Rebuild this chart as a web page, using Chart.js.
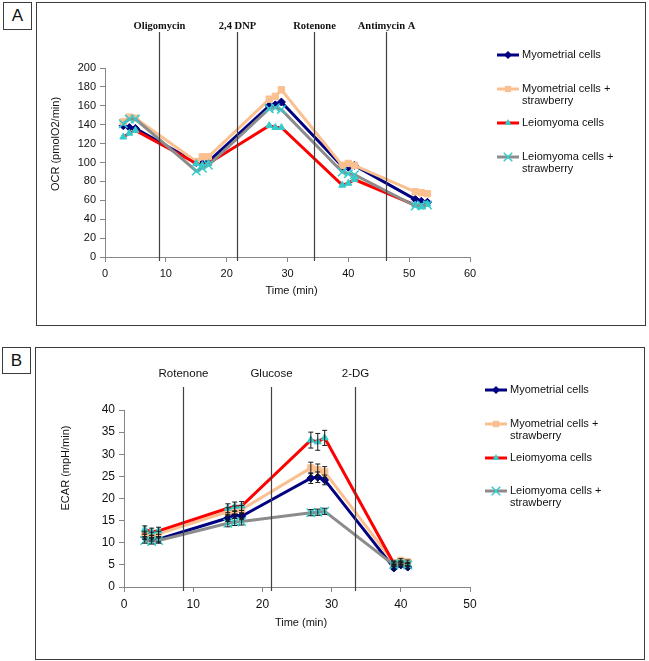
<!DOCTYPE html>
<html>
<head>
<meta charset="utf-8">
<script src="https://cdn.jsdelivr.net/npm/chart.js@4.4.1/dist/chart.umd.min.js"></script>
<style>
  body { margin: 0; width: 649px; height: 661px; background: #fff; position: relative; overflow: hidden;
         font-family: "Liberation Sans", Arial, sans-serif; }
  .frame { position: absolute; border: 1px solid #3c3c3c; }
  .tag { position: absolute; border: 1px solid #3c3c3c; font-size: 17px; text-align: center; line-height: 25px; color: #111; }
  canvas { position: absolute; }
</style>
</head>
<body>
<div class="frame" style="left:36px;top:2px;width:608px;height:322px"></div>
<div class="tag" style="left:3px;top:2px;width:27px;height:26px">A</div>
<div class="frame" style="left:35px;top:347px;width:608px;height:311px"></div>
<div class="tag" style="left:2px;top:347px;width:27px;height:25px">B</div>
<div style="position:absolute;left:37px;top:3px;width:607px;height:321px"><canvas id="ocrChart"></canvas></div>
<div style="position:absolute;left:36px;top:348px;width:608px;height:310px"><canvas id="ecarChart"></canvas></div>

<script>
// ---------------- data ----------------
const seriesNames = [
    ["Myometrial cells"],
    ["Myometrial cells +", "strawberry"],
    ["Leiomyoma cells"],
    ["Leiomyoma cells +", "strawberry"]
];

// Panel A - OCR
const timeA = [3, 4, 5, 15, 16, 17, 27, 28, 29, 39, 40, 41, 51, 52, 53];
const ocrMyo       = [139, 137, 136, 100, 99, 101, 160, 161, 164, 96, 95, 97, 61, 59, 58];
const ocrMyoStraw  = [143, 148, 147, 101, 106, 106, 167, 170, 177, 97, 99, 97, 69, 68, 67];
const ocrLeio      = [127, 131, 134, 99, 97, 99, 139, 137, 137, 76, 78, 82, 55, 53, 56];
const ocrLeioStraw = [141, 146, 146, 91, 94, 97, 157, 158, 156, 90, 88, 87, 54, 55, 55];
const injTimesA  = [8.8, 21.7, 34.3, 46.2];
const injLabelsA = ["Oligomycin", "2,4 DNP", "Rotenone", "Antimycin A"];

// Panel B - ECAR
const timeB = [3, 4, 5, 15, 16, 17, 27, 28, 29, 39, 40, 41];
const ecarMyo       = [11.3, 11.0, 10.8, 15.6, 16.3, 16.0, 24.6, 24.8, 24.2, 4.3, 5.0, 4.5];
const ecarMyoStraw  = [12.0, 11.8, 12.0, 17.0, 17.4, 17.5, 26.9, 26.5, 26.0, 5.5, 6.0, 5.7];
const ecarLeio      = [13.0, 12.5, 12.7, 17.8, 18.2, 18.3, 33.2, 32.8, 33.7, 5.3, 5.5, 5.2];
const ecarLeioStraw = [10.5, 10.3, 10.5, 14.4, 14.7, 14.8, 16.8, 16.9, 17.1, 5.0, 5.3, 5.0];
const errMyo       = [0.6, 0.6, 0.6, 0.8, 0.8, 0.8, 1.2, 1.2, 1.1, 0.4, 0.4, 0.4];
const errMyoStraw  = [0.6, 0.6, 0.6, 0.9, 0.9, 0.9, 1.3, 1.3, 1.2, 0.4, 0.4, 0.4];
const errLeio      = [0.8, 0.8, 0.8, 1.0, 1.0, 1.0, 1.8, 1.9, 1.7, 0.4, 0.4, 0.4];
const errLeioStraw = [0.6, 0.6, 0.6, 0.8, 0.8, 0.8, 0.7, 0.7, 0.7, 0.4, 0.4, 0.4];
const injTimesB  = [8.5, 21.2, 33.4];
const injLabelsB = ["Rotenone", "Glucose", "2-DG"];

// ---------------- styles ----------------
const LINE_COLORS   = ["#000080", "#FAC090", "#FF0000", "#8C8C8C"];
const MARKER_COLORS = ["#000080", "#FAC090", "#33CCCC", "#33CCCC"];
const MARKER_STYLES = ["rectRot", "rect", "triangle", "crossRot"];
const MARKER_RADII  = [4, 4.5, 4, 6];
const AXIS_COLOR = "#868686";

function makeDatasets(times, seriesList, errList) {
    return seriesList.map((vals, i) => ({
        label: seriesNames[i].join(" "),
        data: vals.map((v, k) => ({ x: times[k], y: v })),
        errors: errList ? errList[i] : null,
        borderColor: LINE_COLORS[i],
        borderWidth: 3,
        backgroundColor: MARKER_COLORS[i],
        pointBackgroundColor: MARKER_COLORS[i],
        pointBorderColor: MARKER_COLORS[i],
        pointBorderWidth: MARKER_STYLES[i] === "crossRot" ? 1.5 : 1,
        pointStyle: MARKER_STYLES[i],
        pointRadius: MARKER_RADII[i],
        tension: 0,
        order: 3 - i   // last series drawn on top
    }));
}

// small marker for the hand-drawn legend
function drawMarker(ctx, style, r, x, y) {
    ctx.beginPath();
    if (style === "rectRot") {
        ctx.moveTo(x, y - r); ctx.lineTo(x + r, y); ctx.lineTo(x, y + r); ctx.lineTo(x - r, y); ctx.closePath();
        ctx.fill();
    } else if (style === "rect") {
        const s = r * Math.SQRT1_2;
        ctx.rect(x - s, y - s, 2 * s, 2 * s);
        ctx.fill();
    } else if (style === "triangle") {
        ctx.moveTo(x, y - r); ctx.lineTo(x + r * 0.87, y + r * 0.5); ctx.lineTo(x - r * 0.87, y + r * 0.5); ctx.closePath();
        ctx.fill();
    } else {
        const s = r * Math.SQRT1_2;
        ctx.moveTo(x - s, y - s); ctx.lineTo(x + s, y + s);
        ctx.moveTo(x + s, y - s); ctx.lineTo(x - s, y + s);
        ctx.stroke();
    }
}

// injection lines + labels, legend, axis titles, error bars
function decorPlugin(cfg) {
    return {
        id: "decor",
        afterDatasetsDraw(chart) {
            const ctx = chart.ctx;
            const xs = chart.scales.x, ys = chart.scales.y;
            const area = chart.chartArea;

            // error bars
            chart.data.datasets.forEach(ds => {
                if (!ds.errors) return;
                ctx.save();
                ctx.strokeStyle = "#1a1a1a";
                ctx.lineWidth = 1;
                ds.data.forEach((p, k) => {
                    const px = xs.getPixelForValue(p.x);
                    const top = ys.getPixelForValue(p.y + ds.errors[k]);
                    const bot = ys.getPixelForValue(p.y - ds.errors[k]);
                    ctx.beginPath();
                    ctx.moveTo(px, top); ctx.lineTo(px, bot);
                    ctx.moveTo(px - 2.5, top); ctx.lineTo(px + 2.5, top);
                    ctx.moveTo(px - 2.5, bot); ctx.lineTo(px + 2.5, bot);
                    ctx.stroke();
                });
                ctx.restore();
            });

            // injection lines
            ctx.save();
            ctx.strokeStyle = "#404040";
            ctx.lineWidth = 1.2;
            ctx.fillStyle = "#111";
            ctx.font = cfg.injFont;
            ctx.textAlign = "center";
            ctx.textBaseline = "middle";
            cfg.injTimes.forEach((t, i) => {
                const px = Math.round(xs.getPixelForValue(t)) + 0.5;
                ctx.beginPath();
                ctx.moveTo(px, cfg.injLineTop);
                ctx.lineTo(px, area.bottom + 4);
                ctx.stroke();
                ctx.fillText(cfg.injLabels[i], px, cfg.injLabelY);
            });
            ctx.restore();
        },
        afterDraw(chart) {
            const ctx = chart.ctx;
            const area = chart.chartArea;
            ctx.save();
            ctx.fillStyle = "#111";
            ctx.font = "11px 'Liberation Sans', Arial, sans-serif";
            ctx.textAlign = "center";
            ctx.textBaseline = "middle";

            // axis titles
            ctx.fillText(cfg.xTitle, (area.left + area.right) / 2 + 4, area.bottom + cfg.xTitleDy);
            ctx.save();
            ctx.translate(cfg.yTitleX, cfg.yTitleY);
            ctx.rotate(-Math.PI / 2);
            ctx.fillText(cfg.yTitle, 0, 0);
            ctx.restore();

            // legend
            ctx.textAlign = "left";
            seriesNames.forEach((lines, i) => {
                const y = cfg.legendY[i];
                ctx.strokeStyle = LINE_COLORS[i];
                ctx.lineWidth = 3;
                ctx.beginPath();
                ctx.moveTo(cfg.legendX, y);
                ctx.lineTo(cfg.legendX + 22, y);
                ctx.stroke();
                ctx.fillStyle = MARKER_COLORS[i];
                ctx.strokeStyle = MARKER_COLORS[i];
                ctx.lineWidth = 1.5;
                drawMarker(ctx, MARKER_STYLES[i], MARKER_RADII[i], cfg.legendX + 11, y);
                ctx.fillStyle = "#111";
                lines.forEach((ln, j) => ctx.fillText(ln, cfg.legendX + 25, y + j * 12));
            });
            ctx.restore();
        }
    };
}

function axisOptions(min, max, step, fontSize, fixedSize, horizontal, pad) {
    return {
        type: "linear",
        min: min,
        max: max,
        ticks: { stepSize: step, color: "#111", padding: pad,
                 font: { family: "'Liberation Sans', Arial, sans-serif", size: fontSize } },
        grid: { drawOnChartArea: false, drawTicks: true, tickLength: 5, color: AXIS_COLOR, lineWidth: 1 },
        border: { display: true, color: AXIS_COLOR, width: 1 },
        afterFit: s => { if (horizontal) s.height = fixedSize; else s.width = fixedSize; }
    };
}

// ---------------- Panel A ----------------
new Chart(document.getElementById("ocrChart"), {
    type: "line",
    data: { datasets: makeDatasets(timeA, [ocrMyo, ocrMyoStraw, ocrLeio, ocrLeioStraw], null) },
    options: {
        responsive: true,
        maintainAspectRatio: false,
        animation: false,
        layout: { padding: { left: 0, top: 65, right: 174, bottom: 37 } },
        plugins: { legend: { display: false }, tooltip: { enabled: false } },
        scales: {
            x: axisOptions(0, 60, 10, 11, 30, true, 5),
            y: axisOptions(0, 200, 20, 11, 68, false, 4)
        }
    },
    plugins: [decorPlugin({
        injTimes: injTimesA, injLabels: injLabelsA,
        injFont: "bold 10.5px 'Liberation Serif', 'Times New Roman', serif",
        injLineTop: 29, injLabelY: 23,
        xTitle: "Time (min)", xTitleDy: 34,
        yTitle: "OCR (pmolO2/min)", yTitleX: 19, yTitleY: 141,
        legendX: 460, legendY: [52, 86, 120, 154]
    })]
});

// ---------------- Panel B ----------------
new Chart(document.getElementById("ecarChart"), {
    type: "line",
    data: { datasets: makeDatasets(timeB, [ecarMyo, ecarMyoStraw, ecarLeio, ecarLeioStraw],
                                   [errMyo, errMyoStraw, errLeio, errLeioStraw]) },
    options: {
        responsive: true,
        maintainAspectRatio: false,
        animation: false,
        layout: { padding: { left: 0, top: 62, right: 174, bottom: 41 } },
        plugins: { legend: { display: false }, tooltip: { enabled: false } },
        scales: {
            x: axisOptions(0, 50, 10, 12, 30, true, 5),
            y: axisOptions(0, 40, 5, 12, 88, false, 4)
        }
    },
    plugins: [decorPlugin({
        injTimes: injTimesB, injLabels: injLabelsB,
        injFont: "11.5px 'Liberation Sans', Arial, sans-serif",
        injLineTop: 39, injLabelY: 26,
        xTitle: "Time (min)", xTitleDy: 36,
        yTitle: "ECAR (mpH/min)", yTitleX: 30, yTitleY: 120,
        legendX: 449, legendY: [42, 76, 110, 143]
    })]
});
</script>
</body>
</html>
